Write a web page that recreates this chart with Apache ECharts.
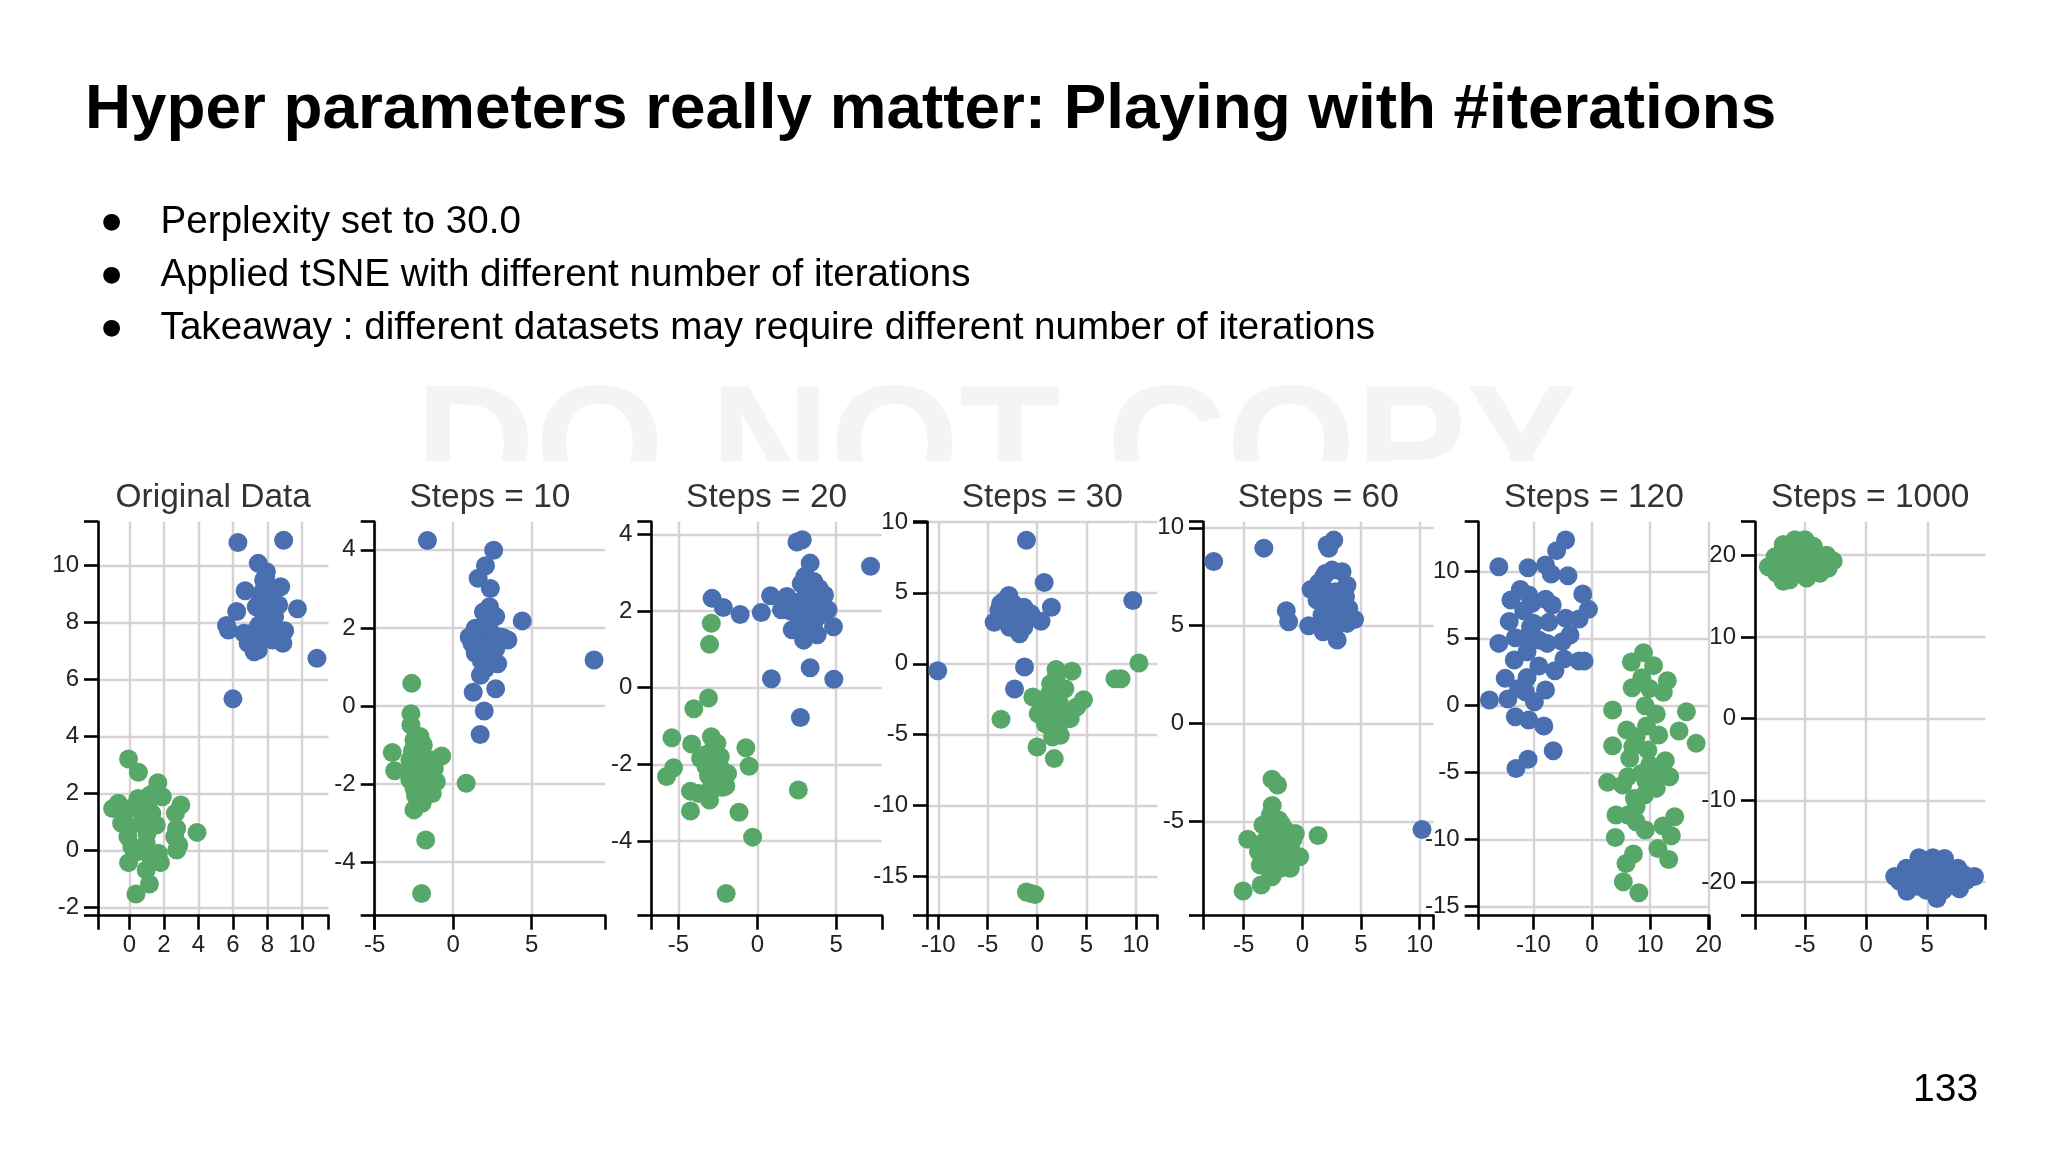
<!DOCTYPE html>
<html>
<head>
<meta charset="utf-8">
<title>Hyper parameters really matter</title>
<style>
    html, body { margin: 0; padding: 0; background: #fff; }
    #main { width: 2048px; height: 1152px; }
</style>
<script src="https://cdn.jsdelivr.net/npm/echarts@6/dist/echarts.min.js"></script>
</head>
<body>
<div id="main"></div>
<script>
var slideTitle = 'Hyper parameters really matter: Playing with #iterations';
var bullets = [
    'Perplexity set to 30.0',
    'Applied tSNE with different number of iterations',
    'Takeaway : different datasets may require different number of iterations'
];
var pageNumber = '133';
var watermark = 'DO NOT COPY';

var panelTitles = ['Original Data', 'Steps = 10', 'Steps = 20', 'Steps = 30', 'Steps = 60', 'Steps = 120', 'Steps = 1000'];

// axis ranges and tick values
var xRanges = [[-1.82, 11.54], [-5, 9.69], [-6.72, 7.9], [-11.14, 12.19], [-8.47, 11.18], [-19.37, 20.1], [-9.08, 9.76]];
var yRanges = [[-2.28, 11.53], [-5.37, 4.72], [-5.95, 4.33], [-17.77, 10.02], [-9.8, 10.31], [-15.67, 13.73], [-24.1, 24.1]];
var xTicks = [
    [0, 2, 4, 6, 8, 10], [-5, 0, 5], [-5, 0, 5], [-10, -5, 0, 5, 10],
    [-5, 0, 5, 10], [-10, 0, 10, 20], [-5, 0, 5]
];
var yTicks = [
    [-2, 0, 2, 4, 6, 8, 10], [-4, -2, 0, 2, 4], [-4, -2, 0, 2, 4], [-15, -10, -5, 0, 5, 10],
    [-5, 0, 5, 10], [-15, -10, -5, 0, 5, 10], [-20, -10, 0, 10, 20]
];

var originalBlue = [[6.29,10.8],[8.94,10.88],[7.47,10.07],[7.94,9.78],[7.78,9.49],[8.77,9.25],[6.71,9.11],[8.3,9.02],[7.59,8.79],[8.65,8.61],[9.74,8.48],[6.22,8.38],[7.35,8.55],[7.94,8.32],[8.42,8.2],[5.63,7.89],[5.74,7.73],[9,7.71],[8.89,7.27],[6.64,7.62],[6.88,7.27],[7.47,7.03],[7.59,7.85],[7.94,7.5],[8.3,7.38],[10.87,6.74],[6,5.32],[7.23,6.97],[8,9.1],[7.7,8.4],[8.2,8],[7.5,7.9],[8.1,8.7],[7.9,9.6],[7.2,7.5],[7.75,9.1],[8.25,7.7],[6.95,7.6]];
var originalGreen = [[-0.05,3.21],[0.52,2.75],[1.65,2.38],[1.91,1.89],[2.98,1.6],[-0.64,1.66],[-0.97,1.48],[0.5,1.83],[1.2,1.95],[2.67,1.31],[-0.45,0.96],[1.56,0.9],[0.73,1.31],[2.74,0.78],[3.92,0.64],[1.02,0.61],[2.62,0.49],[2.86,0.2],[2.74,0.02],[-0.09,0.49],[0.14,0.14],[1.68,-0.09],[-0.05,-0.42],[1.8,-0.42],[0.97,-0.68],[1.16,-1.17],[0.38,-1.52],[1.2,-0.2],[0.6,0.02],[1.3,1.3],[0.85,1],[1.56,2.13],[0.26,1.54],[0.02,0.84],[1.09,1.66],[0.97,0.26],[0.75,1.75],[1.3,0.9],[0.4,-0.05],[-0.3,1.3]];

var steps10Blue = [[-1.64,4.24],[2.58,3.99],[2.06,3.59],[1.59,3.27],[2.37,3.01],[2.32,2.54],[1.93,2.41],[2.71,2.29],[4.4,2.18],[1.41,1.99],[1.02,1.77],[3.49,1.69],[2.32,1.95],[2.97,1.77],[1.93,1.69],[1.41,1.35],[2.32,1.43],[2.58,1.18],[2.84,1.08],[2.06,0.96],[1.74,0.79],[8.98,1.18],[1.28,0.35],[2.71,0.44],[1.98,-0.13],[1.72,-0.73],[2,1.5],[1.7,1.9],[2.5,1.6],[2.2,1.2],[1.6,1.6],[3.2,1.75],[2,2.1],[1.2,1.6],[2.7,1.45],[1.8,1.15]];
var steps10Green = [[-2.64,0.58],[-2.69,-0.2],[-2.69,-0.49],[-2.11,-0.78],[-2.5,-0.87],[-3.88,-1.19],[-0.73,-1.28],[-3.73,-1.66],[0.83,-1.98],[-2.11,-1.12],[-1.33,-1.38],[-2.76,-1.38],[-2.11,-1.47],[-1.2,-1.6],[-2.76,-1.89],[-1.07,-1.94],[-1.33,-2.24],[-2.24,-2.41],[-2.5,-2.66],[-1.98,-2.49],[-1.75,-3.43],[-2.01,-4.8],[-1.72,-1.89],[-2.37,-1.71],[-1.6,-2.11],[-1.85,-1.3],[-2.2,-1.6],[-1.6,-1.55],[-2,-2],[-2.5,-2.1],[-1.9,-1.75],[-2.3,-1.3],[-2.6,-1.15],[-1.5,-1.75],[-2.15,-2.2],[-1.8,-2.3],[-2.4,-2.3],[-1.4,-1.9],[-2.7,-1.65],[-1.9,-1]];

var steps20Blue = [[2.51,3.8],[2.85,3.86],[3.35,3.25],[7.18,3.17],[3.01,2.9],[2.78,2.71],[3.58,2.77],[3.92,2.59],[4.26,2.42],[-2.87,2.33],[-2.16,2.09],[-1.09,1.91],[0.25,1.96],[0.84,2.4],[1.87,2.38],[1.53,2.03],[4.49,2.03],[3.35,2.2],[2.89,2.29],[2.21,1.51],[4.83,1.59],[3.8,1.38],[2.94,1.24],[2.67,1.77],[3.58,1.68],[3.12,1.9],[4.03,1.9],[3.35,0.52],[0.89,0.23],[4.85,0.22],[2.73,-0.78],[2.44,2.03],[3.69,2.29],[3,1.4],[3.3,1.8],[3.9,2.2],[3.2,2.5],[2.7,2.2],[2.1,2],[3.6,2.5]];
var steps20Green = [[-2.92,1.68],[-3.03,1.13],[-3.1,-0.27],[-4.03,-0.55],[-5.42,-1.31],[-4.17,-1.47],[-2.92,-1.28],[-2.57,-1.45],[-0.73,-1.57],[-5.31,-2.09],[-5.76,-2.32],[-0.52,-2.05],[-3.6,-1.85],[-3.03,-1.71],[-2.35,-1.8],[-3.26,-2.06],[-2.57,-2.11],[-1.89,-2.24],[-2.8,-2.41],[-2,-2.57],[-4.24,-2.7],[-3.71,-2.76],[-3.03,-2.93],[-3.26,-2.76],[2.6,-2.67],[-4.24,-3.22],[-1.16,-3.25],[-0.3,-3.9],[-1.98,-5.37],[-2.8,-1.6],[-3.1,-2.3],[-2.5,-2.6],[-2.8,-2],[-2.3,-2.3],[-2.9,-2.6],[-2.6,-1.8],[-3.3,-1.75],[-2.4,-2.05],[-2.2,-2.6]];

var steps30Blue = [[-1.08,8.71],[0.72,5.73],[9.69,4.46],[1.45,3.99],[-2.86,4.81],[-3.69,4.23],[-4.34,2.93],[-2.42,4.23],[-1.34,3.99],[-0.61,3.52],[0.4,3],[-3.33,3.29],[-2.42,3.29],[-2.78,2.58],[-1.77,2.11],[-1.34,2.58],[-1.7,3.29],[-3.87,3.76],[-3.15,3.99],[-2.24,2.58],[-1.27,-0.23],[-2.28,-1.78],[-10.05,-0.49],[-2,3.8],[-3,3.5],[-2.5,4],[-1.5,3.2],[-2.8,3.9],[-3.4,4.4],[-2,2.9]];
var steps30Green = [[1.92,-0.4],[3.54,-0.52],[10.31,0.05],[7.88,-1.06],[8.5,-1.06],[1.37,-1.41],[2.82,-1.76],[-0.43,-2.35],[4.7,-2.54],[4.01,-3.05],[3.36,-3.87],[0.11,-3.52],[-3.65,-3.92],[0.83,-2.58],[1.74,-2.11],[2.28,-2.82],[1.19,-3.52],[1.92,-3.99],[0.83,-4.23],[2.35,-5.05],[1.56,-5.16],[0,-5.87],[1.74,-6.69],[-1.08,-16.1],[-0.61,-16.2],[-0.22,-16.27],[1.4,-3],[1.8,-3.4],[0.9,-3.1],[2.1,-2.4],[1.5,-4.5],[1.2,-2.2],[2.3,-4.2],[0.5,-2.9],[1.6,-1.9],[2.7,-3.4],[1.9,-1]];

var steps60Blue = [[-7.56,8.28],[-3.28,8.96],[2.68,9.37],[2.25,8.95],[2.11,9.12],[3.39,7.76],[2.54,7.84],[1.82,7.5],[3.8,7.07],[0.74,6.85],[1.54,6.65],[-1.37,5.77],[-1.17,5.2],[0.54,5],[1.77,4.69],[2.97,4.27],[4.45,5.32],[3.82,5.12],[3.96,5.88],[2.4,6.31],[1.82,5.97],[2.97,6.14],[1.25,6.31],[2.4,5.46],[3.25,5.54],[1.68,5.54],[2.82,6.73],[2.11,6.73],[3.68,6.48],[1.97,7.67],[2.2,6],[2.9,5],[1.4,7.2],[10.2,-5.4],[3.2,5.9],[2.6,5.2],[1.9,5.2]];
var steps60Green = [[-2.59,-2.84],[-2.11,-3.13],[-2.57,-4.18],[-2.02,-4.91],[-3.36,-5.17],[-4.65,-5.9],[1.34,-5.71],[-0.6,-5.6],[-1.45,-5.77],[-2.45,-5.77],[-3.02,-6.11],[-3.74,-6.53],[-0.23,-6.79],[-1.03,-7.38],[-3.59,-7.21],[-2.17,-6.96],[-2.59,-7.81],[-3.51,-8.23],[-5.05,-8.54],[-1.6,-6.62],[-2.74,-4.66],[-3.02,-7.3],[-1.88,-7.38],[-2.5,-5.2],[-1.5,-5.4],[-3,-6.7],[-2,-6],[-1,-6.2],[-2.5,-6.5],[-1.2,-6.8],[-3.2,-6],[-2.4,-7.3],[-1.5,-6.2],[-0.8,-5.9],[-2.8,-7.5],[-1.8,-5.1]];

var steps120Blue = [[-15.92,10.37],[-10.92,10.3],[-4.48,12.36],[-6.03,11.57],[-7.93,10.5],[-6.95,9.83],[-4.08,9.7],[-1.55,8.33],[-0.57,7.19],[-2.18,6.47],[-4.48,6.52],[-12.24,8.68],[-10.8,8.26],[-13.85,7.89],[-10.23,7.64],[-7.93,7.94],[-6.78,7.51],[-11.67,7.09],[-14.14,6.29],[-9.94,6.14],[-7.36,6.22],[-3.74,5.27],[-5.06,4.78],[-13.1,5.07],[-11.09,5.15],[-9.08,4.9],[-7.64,4.65],[-15.92,4.65],[-11.09,4.03],[-13.28,3.41],[-9.08,2.96],[-6.32,2.61],[-4.77,3.48],[-2.18,3.33],[-1.32,3.33],[-14.83,2.04],[-11.09,2.11],[-12.53,1.29],[-7.93,1.17],[-11.38,1.04],[-14.37,0.5],[-17.53,0.42],[-9.83,0.3],[-13.1,-0.82],[-10.8,-1.07],[-8.22,-1.52],[-6.61,-3.36],[-10.92,-4],[-12.99,-4.68],[-10.5,5.9]];
var steps120Green = [[8.85,3.96],[6.78,3.26],[10.57,2.99],[8.56,2.09],[12.93,1.87],[6.9,1.34],[9.89,1.29],[12.24,1],[9.14,0],[11.03,-0.62],[3.56,-0.32],[16.2,-0.45],[9.37,-1.52],[5.98,-1.82],[11.44,-2.19],[14.94,-1.89],[17.87,-2.81],[3.56,-2.99],[7.59,-2.31],[7.01,-3.06],[9.6,-3.31],[6.49,-3.93],[12.59,-4.1],[9.89,-4.43],[13.33,-5.3],[11.61,-4.93],[8.45,-5.05],[6.15,-5.3],[2.7,-5.72],[5.29,-5.92],[9.31,-5.67],[11.03,-6.17],[9.02,-6.67],[7.3,-6.92],[7.59,-7.54],[4.14,-8.16],[6.15,-8.16],[7.59,-8.66],[9.14,-9.28],[14.2,-8.28],[12.18,-8.98],[13.62,-9.7],[4.02,-9.83],[11.32,-10.65],[13.16,-11.47],[7.13,-11.07],[5.86,-11.77],[5.4,-13.13],[8.05,-13.96]];

var steps1000Blue = [[2.34,-19.3],[3.29,-18.3],[4.32,-17],[5.46,-17],[6.41,-17.1],[7.5,-18.3],[8.86,-19.3],[8.18,-19.8],[7.64,-20.8],[5.79,-22],[4.92,-21],[3.34,-21.1],[3.83,-19.9],[4.92,-18.7],[6,-18.7],[6.82,-19.3],[4.65,-20],[5.6,-20.2],[6.55,-20.6],[7.09,-20],[2.74,-19.9],[5.46,-17.9],[5.73,-21],[7.91,-19],[3.9,-18.5],[7.2,-18.8],[4.2,-20.5],[6.3,-21],[5,-19.5],[6.2,-19.8],[3,-19.5]];
var steps1000Green = [[-7.99,18.6],[-7.45,19.8],[-6.77,21.3],[-5.82,21.9],[-5,21.9],[-4.32,21.1],[-3.23,20],[-2.69,19.3],[-3.1,18.4],[-3.78,17.8],[-4.86,17.2],[-6.77,16.8],[-6.23,17],[-7.31,17.8],[-6.5,19.3],[-5.68,20.1],[-4.86,19.4],[-4.05,19.4],[-5.95,18.2],[-5.14,18.2],[-7.04,18.6],[-4.32,18.4],[-3.51,19],[-6.23,20.5],[-5.41,21.1],[-4.59,20.2],[-7.2,19],[-6,17.6],[-3.8,19],[-7,18],[-5.4,17.8],[-6.9,20.3],[-4.3,19.8]];

var blueSets = [originalBlue, steps10Blue, steps20Blue, steps30Blue, steps60Blue, steps120Blue, steps1000Blue];
var greenSets = [originalGreen, steps10Green, steps20Green, steps30Green, steps60Green, steps120Green, steps1000Green];

var font = '"Liberation Sans", Arial, sans-serif';
var lineColor = '#d6d2d6';
var panelLeft = [98, 374.7, 651.4, 927, 1203, 1478.7, 1755];
var panelWidth = 230.5, panelTop = 521.7, panelHeight = 394;

function axisFor(type, range, ticks, i, pos) {
    return {
        type: 'value', gridIndex: i, position: pos,
        min: range[0], max: range[1],
        axisLine: { show: true, onZero: false, lineStyle: { color: '#000', width: 2.6 } },
        axisTick: {
            show: true, length: 14, inside: false,
            customValues: [range[0]].concat(ticks, [range[1]]),
            lineStyle: { color: '#000', width: 2.6 }
        },
        axisLabel: {
            customValues: ticks, margin: type === 'x' ? 18 : 19,
            fontFamily: font, fontSize: 24, color: '#222', hideOverlap: false
        },
        splitLine: { show: true, showMinLine: false, showMaxLine: false, lineStyle: { color: lineColor, width: 2.4 } }
    };
}

var titles = [
    { text: slideTitle, left: 85, top: 78, padding: 0, textStyle: { fontFamily: font, fontSize: 63.8, fontWeight: 'bold', color: '#000' } },
    { text: pageNumber, left: 1913, top: 1071, padding: 0, textStyle: { fontFamily: font, fontSize: 39, fontWeight: 'normal', color: '#000' } }
];
var bulletTop = [203, 256, 309];
bullets.forEach(function (b, i) {
    titles.push({ text: b, left: 160.6, top: bulletTop[i], padding: 0, textStyle: { fontFamily: font, fontSize: 38.6, fontWeight: 'normal', color: '#000' } });
    titles.push({ text: '●', left: 102, top: bulletTop[i] + 8, padding: 0, textStyle: { fontFamily: '"DejaVu Sans"', fontSize: 22, fontWeight: 'normal', color: '#000' } });
});

var grids = [], xAxes = [], yAxes = [], series = [];
panelTitles.forEach(function (t, i) {
    titles.push({
        text: t, left: panelLeft[i] + panelWidth / 2, top: 481, padding: 0, textAlign: 'center',
        textStyle: { fontFamily: font, fontSize: 33.5, fontWeight: 'normal', color: '#333' }
    });
    grids.push({ left: panelLeft[i], top: panelTop, width: panelWidth, height: panelHeight, containLabel: false });
    xAxes.push(axisFor('x', xRanges[i], xTicks[i], i, 'bottom'));
    yAxes.push(axisFor('y', yRanges[i], yTicks[i], i, 'left'));
    series.push({ type: 'scatter', xAxisIndex: i, yAxisIndex: i, data: blueSets[i], symbolSize: 19, clip: false, itemStyle: { color: '#4a6fb0', opacity: 1 } });
    series.push({ type: 'scatter', xAxisIndex: i, yAxisIndex: i, data: greenSets[i], symbolSize: 19, clip: false, itemStyle: { color: '#57a868', opacity: 1 } });
});

var chart = echarts.init(document.getElementById('main'), null, { renderer: 'canvas' });
chart.setOption({
    animation: false,
    backgroundColor: '#fff',
    title: titles,
    grid: grids,
    xAxis: xAxes,
    yAxis: yAxes,
    series: series,
    // the watermark is cut off by the white plot image below it
    graphic: [
        { type: 'text', z: -10, left: 415, top: 371, style: { text: watermark, fontFamily: font, fontSize: 166, fontWeight: 'bold', fill: '#f4f4f4' } },
        { type: 'rect', z: -9, shape: { x: 0, y: 461, width: 2048, height: 300 }, style: { fill: '#fff' } }
    ]
});
</script>
</body>
</html>
